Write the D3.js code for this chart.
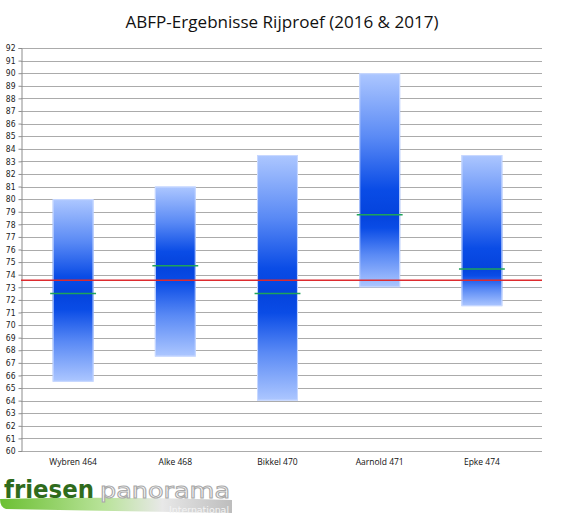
<!DOCTYPE html>
<html>
<head>
<meta charset="utf-8">
<script src="https://cdn.jsdelivr.net/npm/d3@7"></script>
<style>
  body { margin: 0; background: #fff; }
  svg { display: block; }
</style>
</head>
<body>
<div id="chart"></div>
<script>
// chart data
var categories = ["Wybren 464", "Alke 468", "Bikkel 470", "Aarnold 471", "Epke 474"];
var minValues = [65.5, 67.5, 64.0, 73.0, 71.5];
var maxValues = [80.0, 81.0, 83.5, 90.0, 83.5];
var medianValues = [72.5, 74.7, 72.5, 78.75, 74.45];
var averageValue = 73.55;
var yTicks = d3.range(60, 93, 1);
var chartTitle = "ABFP-Ergebnisse Rijproef (2016 & 2017)";

var Width = 584, Height = 519;
var PlotLeft = 21, PlotRight = 542, PlotTop = 48, PlotBottom = 451;

var svg = d3.select("#chart").append("svg")
    .attr("width", Width)
    .attr("height", Height);

var defs = svg.append("defs");

// upper half: light at top, dark near median
var upper = defs.append("linearGradient").attr("id", "gradUpper")
    .attr("x1", 0).attr("y1", 0).attr("x2", 0).attr("y2", 1);
upper.append("stop").attr("offset", "0%").attr("stop-color", "#adc7ff");
upper.append("stop").attr("offset", "45%").attr("stop-color", "#5a8af5");
upper.append("stop").attr("offset", "82%").attr("stop-color", "#0a4ce6");
upper.append("stop").attr("offset", "100%").attr("stop-color", "#0443dd");

// lower half: dark near median, light at bottom
var lower = defs.append("linearGradient").attr("id", "gradLower")
    .attr("x1", 0).attr("y1", 0).attr("x2", 0).attr("y2", 1);
lower.append("stop").attr("offset", "0%").attr("stop-color", "#0443dd");
lower.append("stop").attr("offset", "18%").attr("stop-color", "#0a4ce6");
lower.append("stop").attr("offset", "55%").attr("stop-color", "#5a8af5");
lower.append("stop").attr("offset", "100%").attr("stop-color", "#adc7ff");

var swoosh = defs.append("linearGradient").attr("id", "gradSwoosh")
    .attr("x1", 0).attr("y1", 0).attr("x2", 1).attr("y2", 0);
swoosh.append("stop").attr("offset", "0%").attr("stop-color", "#6cc033");
swoosh.append("stop").attr("offset", "45%").attr("stop-color", "#b9e39a");
swoosh.append("stop").attr("offset", "70%").attr("stop-color", "#e8e8e8");
swoosh.append("stop").attr("offset", "100%").attr("stop-color", "#bdbdbd");

var y = d3.scaleLinear()
    .domain([60, 92])
    .range([PlotBottom, PlotTop]);

var x = d3.scaleBand()
    .domain(categories)
    .range([22, 533])
    .paddingInner(0.6)
    .paddingOuter(0.3);

// title
svg.append("text")
    .attr("x", 282)
    .attr("y", 28)
    .attr("text-anchor", "middle")
    .attr("font-family", "'Open Sans', sans-serif")
    .attr("font-size", 16.5)
    .attr("fill", "#111")
    .attr("textLength", 313)
    .attr("lengthAdjust", "spacingAndGlyphs")
    .text(chartTitle);

// gridlines
svg.append("g")
    .selectAll("line")
    .data(yTicks)
    .enter()
    .append("line")
    .attr("x1", PlotLeft)
    .attr("x2", PlotRight)
    .attr("y1", d => Math.round(y(d)) + 0.5)
    .attr("y2", d => Math.round(y(d)) + 0.5)
    .attr("stroke", "#ababab")
    .attr("stroke-width", 1);

// y axis
var LeftAxis = d3.axisLeft(y)
    .tickValues(yTicks)
    .tickSize(3)
    .tickPadding(3)
    .tickFormat(d3.format("d"));

var yAxisG = svg.append("g")
    .attr("transform", "translate(" + (PlotLeft + 0.5) + ",0)")
    .call(LeftAxis);
yAxisG.select(".domain").attr("stroke", "#8c8c8c");
yAxisG.selectAll(".tick line").attr("stroke", "#8c8c8c");
yAxisG.selectAll(".tick text")
    .attr("font-family", "'DejaVu Sans Condensed', 'DejaVu Sans', sans-serif")
    .attr("font-size", 8.5)
    .attr("fill", "#222");

// x axis (labels only)
var BottomAxis = d3.axisBottom(x).tickSize(0).tickPadding(8);
var xAxisG = svg.append("g")
    .attr("transform", "translate(0," + PlotBottom + ")")
    .call(BottomAxis);
xAxisG.select(".domain").remove();
xAxisG.selectAll(".tick text")
    .attr("font-family", "'Open Sans', sans-serif")
    .attr("font-size", 8.5)
    .attr("fill", "#111");

// bars: lower segment (min -> median) and upper segment (median -> max)
var bars = svg.append("g");
categories.forEach((cat, i) => {
    bars.append("rect")
        .attr("x", x(cat))
        .attr("y", y(maxValues[i]))
        .attr("width", x.bandwidth())
        .attr("height", y(medianValues[i]) - y(maxValues[i]))
        .attr("fill", "url(#gradUpper)");
    bars.append("rect")
        .attr("x", x(cat))
        .attr("y", y(medianValues[i]))
        .attr("width", x.bandwidth())
        .attr("height", y(minValues[i]) - y(medianValues[i]))
        .attr("fill", "url(#gradLower)");
    bars.append("rect")
        .attr("x", x(cat) + 0.5)
        .attr("y", y(maxValues[i]) + 0.5)
        .attr("width", x.bandwidth() - 1)
        .attr("height", y(minValues[i]) - y(maxValues[i]) - 1)
        .attr("fill", "none")
        .attr("stroke", "#c9d9ff")
        .attr("stroke-width", 1);
});

// average line
svg.append("line")
    .attr("x1", PlotLeft)
    .attr("x2", PlotRight)
    .attr("y1", y(averageValue))
    .attr("y2", y(averageValue))
    .attr("stroke", "#dd2a2e")
    .attr("stroke-width", 1.5);

// median markers
svg.append("g")
    .selectAll("line")
    .data(categories)
    .enter()
    .append("line")
    .attr("x1", d => x(d) - 2.5)
    .attr("x2", d => x(d) + x.bandwidth() + 2.5)
    .attr("y1", (d, i) => y(medianValues[i]))
    .attr("y2", (d, i) => y(medianValues[i]))
    .attr("stroke", "#1ea35a")
    .attr("stroke-width", 1.5);

// logo
var logo = svg.append("g");
logo.append("path")
    .attr("d", "M0,499 Q110,496 232,500 L232,513 Q110,511 6,509 Q0,507 0,499 Z")
    .attr("fill", "url(#gradSwoosh)");
logo.append("text")
    .attr("x", 4)
    .attr("y", 498)
    .attr("font-family", "'DejaVu Sans', sans-serif")
    .attr("font-weight", "bold")
    .attr("font-size", 25)
    .attr("fill", "#2f6b1c")
    .attr("textLength", 90)
    .attr("lengthAdjust", "spacingAndGlyphs")
    .text("friesen");
logo.append("text")
    .attr("x", 100)
    .attr("y", 498)
    .attr("font-family", "'DejaVu Sans', sans-serif")
    .attr("font-size", 21)
    .attr("fill", "#ffffff")
    .attr("stroke", "#a9a9a9")
    .attr("stroke-width", 1)
    .attr("textLength", 130)
    .attr("lengthAdjust", "spacingAndGlyphs")
    .text("panorama");
logo.append("text")
    .attr("x", 229)
    .attr("y", 513)
    .attr("text-anchor", "end")
    .attr("font-family", "'DejaVu Sans Condensed', 'DejaVu Sans', sans-serif")
    .attr("font-size", 8)
    .attr("fill", "#f4f4f4")
    .attr("textLength", 60)
    .attr("lengthAdjust", "spacingAndGlyphs")
    .text("International");
</script>
</body>
</html>
